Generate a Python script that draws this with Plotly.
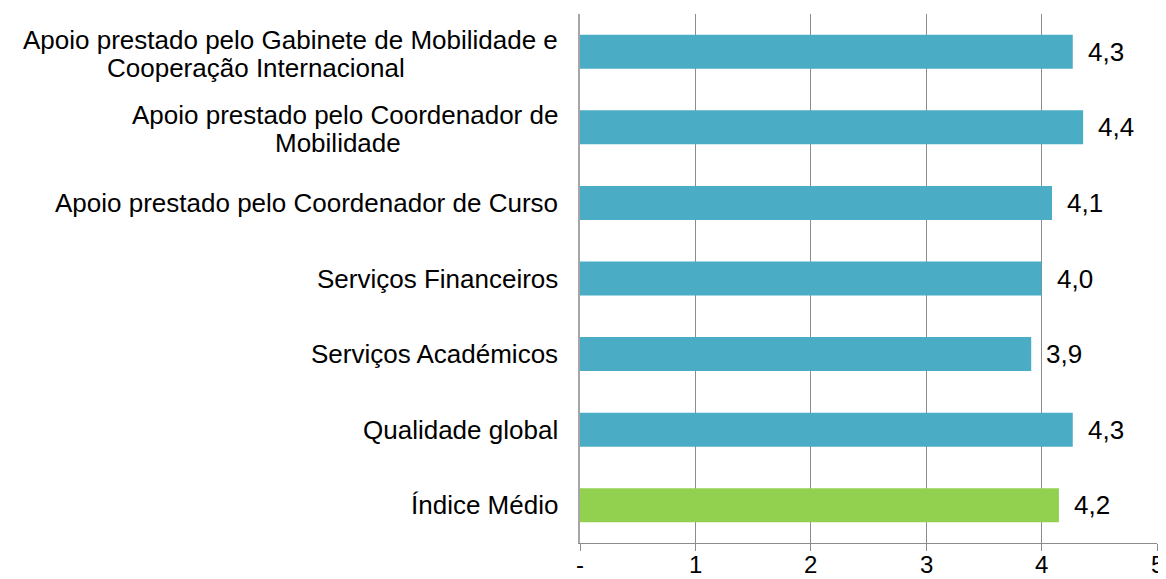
import plotly.graph_objects as go

# Category labels (each entry is a list of text lines)
categories = [
    ["Apoio prestado pelo Gabinete de Mobilidade e", "Cooperação Internacional"],
    ["Apoio prestado pelo Coordenador de", "Mobilidade"],
    ["Apoio prestado pelo Coordenador de Curso"],
    ["Serviços Financeiros"],
    ["Serviços Académicos"],
    ["Qualidade global"],
    ["Índice Médio"],
]
values = [4.27, 4.36, 4.09, 4.0, 3.91, 4.27, 4.15]
colors = ["#4BACC6"] * 6 + ["#92D050"]
tick_vals = [0, 1, 2, 3, 4, 5]
tick_text = ["-", "1", "2", "3", "4", "5"]

FONT = "Liberation Sans, Arial, sans-serif"
FS = 26

# page has 8px body margin; compensate
W, H = 1166 - 8, 579 - 8

fig = go.Figure()
fig.add_trace(go.Bar(
    y=list(range(len(categories))),
    x=values,
    orientation="h",
    marker=dict(color=colors, line=dict(width=0)),
    width=0.45,
    hoverinfo="skip",
))

annotations = []
second_line_shift = {0: -324, 1: -242}
for i, (lines, v) in enumerate(zip(categories, values)):
    if len(lines) == 1:
        annotations.append(dict(
            x=0, xref="paper", y=i, yref="y", text=lines[0], showarrow=False,
            xanchor="right", yanchor="middle", xshift=-20,
            font=dict(family=FONT, size=FS, color="#000000"),
        ))
    else:
        annotations.append(dict(
            x=0, xref="paper", y=i, yref="y", text=lines[0], showarrow=False,
            xanchor="right", yanchor="middle", xshift=-20, yshift=12,
            font=dict(family=FONT, size=FS, color="#000000"),
        ))
        annotations.append(dict(
            x=0, xref="paper", y=i, yref="y", text=lines[1], showarrow=False,
            xanchor="center", yanchor="middle", xshift=second_line_shift[i], yshift=-16,
            font=dict(family=FONT, size=FS, color="#000000"),
        ))
    annotations.append(dict(
        x=v, xref="x", y=i, yref="y", text=f"{v:.1f}".replace(".", ","),
        showarrow=False, xanchor="left", yanchor="middle", xshift=13,
        font=dict(family=FONT, size=FS, color="#000000"),
    ))

# x-axis tick labels as annotations so they sit tight under the ticks
for tv, tt in zip(tick_vals, tick_text):
    annotations.append(dict(
        x=tv, xref="x", y=0, yref="paper", text=tt, showarrow=False,
        xanchor="center", yanchor="top", yshift=-7, borderpad=0,
        font=dict(family=FONT, size=24, color="#000000"),
    ))

fig.update_layout(
    width=W, height=H,
    margin=dict(l=572, r=9, t=6, b=36, autoexpand=False),
    plot_bgcolor="white", paper_bgcolor="white",
    showlegend=False,
    annotations=annotations,
    xaxis=dict(
        range=[0, 5], tickvals=tick_vals, showticklabels=False,
        showgrid=True, gridcolor="#8C8C8C", gridwidth=1,
        zeroline=False, showline=True, linecolor="#8C8C8C", linewidth=1,
        ticks="outside", ticklen=7, tickcolor="#8C8C8C",
        automargin=False,
    ),
    yaxis=dict(
        range=[6.5, -0.5], showticklabels=False, showgrid=False,
        zeroline=False, showline=True, linecolor="#A6A6A6", linewidth=2,
        ticks="", automargin=False,
    ),
)

fig.write_html("out.html")
